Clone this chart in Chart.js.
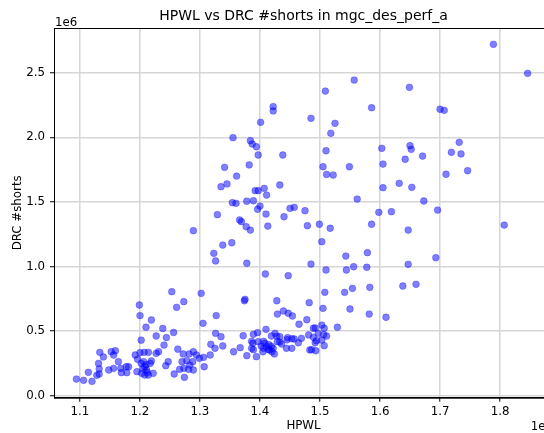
<!DOCTYPE html>
<html>
<head>
<meta charset="utf-8">
<script src="https://cdn.jsdelivr.net/npm/chart.js@4.4.1/dist/chart.umd.min.js"></script>
<style>
  html, body { margin: 0; padding: 0; overflow: hidden; background: #fff; }
  canvas { display: block; }
</style>
</head>
<body>
<canvas id="c" width="560" height="433"></canvas>
<script>
// HPWL values in units of 1e7, DRC #shorts in units of 1e6
const hpwl = [
  1.094,1.106,1.120,1.114,1.128,1.132,1.131,1.132,1.133,1.139,1.148,1.152,1.156,1.156,1.159,1.164,1.168,1.169,1.177,1.178,
  1.181,1.192,1.195,1.196,1.200,1.200,1.199,1.202,1.203,1.206,1.207,1.208,1.208,1.211,1.214,1.214,1.217,1.219,1.210,1.219,
  1.222,1.227,1.227,1.231,1.238,1.240,1.243,1.244,1.247,1.253,1.256,1.257,1.261,1.263,1.266,1.270,1.272,1.273,1.273,1.274,
  1.278,1.281,1.282,1.283,1.288,1.289,1.289,1.294,1.299,1.305,1.307,1.205,1.210,1.212,1.202,
  1.306,1.317,1.318,1.325,1.326,1.327,1.335,1.338,1.356,1.367,1.372,1.374,1.378,1.386,1.386,1.388,1.389,1.389,1.394,1.396,
  1.397,1.406,1.406,1.408,1.410,1.411,1.414,1.416,1.419,1.419,1.422,1.424,1.425,1.428,1.428,1.429,1.429,1.433,1.433,1.436,
  1.439,1.444,1.445,1.446,1.447,1.453,1.453,1.454,1.457,1.464,1.465,1.469,1.478,1.481,1.482,1.483,1.486,1.489,1.489,1.492,
  1.492,1.493,1.494,1.497,1.503,1.503,1.505,1.506,1.507,1.507,1.511,1.529,1.550,1.582,1.610,1.402,1.415,1.405,1.420,
  1.302,1.289,1.323,1.326,1.329,1.338,1.353,1.366,1.369,1.377,1.384,1.378,1.375,1.409,1.413,1.447,1.440,1.479,1.485,1.499,
  1.503,1.508,1.510,1.517,1.541,1.543,1.544,1.554,1.556,1.578,1.579,1.583,1.586,1.598,1.619,1.638,1.647,1.647,1.660,1.693,
  1.696,1.673,1.807,1.354,1.360,1.378,1.389,1.400,1.396,1.410,1.450,1.457,1.475,1.562,1.335,1.345,1.392,1.397,1.407,1.411,
  1.433,1.605,1.632,1.653,
  1.341,1.361,1.382,1.397,1.438,1.394,1.387,1.384,1.355,1.401,1.422,1.422,1.485,1.509,1.525,1.518,1.557,1.586,1.510,1.505,
  1.549,1.511,1.522,1.603,1.605,1.649,1.700,1.707,1.650,1.652,1.642,1.671,1.732,1.719,1.735,1.746,1.710,1.789,1.846
];
const drcShorts = [
  0.129,0.119,0.111,0.181,0.158,0.168,0.250,0.207,0.336,0.300,0.199,0.340,0.315,0.212,0.348,0.263,0.212,0.178,0.224,0.178,
  0.224,0.315,0.186,0.282,0.333,0.620,0.702,0.430,0.173,0.263,0.336,0.224,0.160,0.199,0.336,0.160,0.250,0.269,0.530,0.586,
  0.173,0.328,0.462,0.340,0.520,0.392,0.232,0.450,0.263,0.805,0.490,0.168,0.684,0.360,0.204,0.263,0.323,0.728,0.212,0.142,
  0.271,0.204,0.323,0.237,0.263,0.340,0.199,0.315,0.290,0.560,0.224,0.210,0.240,0.180,0.250,
  0.297,0.315,0.398,0.367,0.483,0.620,0.457,0.385,0.340,0.372,0.464,0.735,0.310,0.367,0.421,0.406,0.475,0.356,0.302,0.488,
  0.418,0.367,0.421,0.406,0.514,0.379,0.356,0.354,0.462,0.382,0.367,0.323,0.483,0.460,0.735,0.418,0.632,0.457,0.415,0.400,
  0.656,0.367,0.433,0.449,0.638,0.367,0.441,0.617,0.439,0.410,0.553,0.444,0.588,0.470,0.720,0.354,0.356,0.522,0.452,0.410,
  0.524,0.348,0.426,0.483,0.547,0.431,0.676,0.472,0.522,0.387,0.462,0.530,0.671,0.632,0.607,0.385,0.395,0.340,0.340,
  0.792,1.277,1.102,1.043,1.401,1.166,1.184,1.360,1.347,1.308,1.282,1.025,0.746,0.942,1.313,0.929,1.385,1.316,1.019,1.327,
  1.192,0.800,0.973,1.296,0.800,1.081,0.973,0.831,0.998,0.994,1.107,0.839,1.327,1.419,1.424,0.849,1.282,1.017,0.862,1.068,
  1.437,1.507,1.321,1.494,1.489,1.505,1.509,1.468,1.443,1.406,1.450,1.458,1.432,1.522,1.618,1.639,1.587,1.587,1.605,1.553,
  1.631,1.610,1.644,1.613,
  1.768,1.700,1.786,1.863,1.863,1.927,1.948,1.974,1.997,2.116,2.237,2.204,2.147,2.358,2.108,2.031,2.443,2.229,1.896,1.772,
  1.772,1.713,1.708,1.915,1.793,2.387,2.217,2.209,1.935,1.907,1.830,1.855,1.961,1.884,1.871,1.742,1.714,2.720,2.495
];
const xTicks = [1.1, 1.2, 1.3, 1.4, 1.5, 1.6, 1.7, 1.8];
const yTicks = [0.0, 0.5, 1.0, 1.5, 2.0, 2.5];
const titleText = 'HPWL vs DRC #shorts in mgc_des_perf_a';
const xLabel = 'HPWL';
const yLabel = 'DRC #shorts';
const xOffsetText = '1e7';
const yOffsetText = '1e6';

const points = hpwl.map((x, i) => ({ x: x, y: drcShorts[i] }));
const FONT = 'DejaVu Sans';

const framePlugin = {
  id: 'frame',
  afterDraw(chart) {
    const { ctx, chartArea: a } = chart;
    ctx.save();
    ctx.strokeStyle = '#000';
    ctx.lineWidth = 1;
    ctx.strokeRect(a.left + 0.5, a.top + 0.5, a.right - a.left - 1, a.bottom - a.top);
    ctx.fillStyle = '#000';
    ctx.font = '11.8px "' + FONT + '"';
    ctx.textBaseline = 'alphabetic';
    ctx.textAlign = 'left';
    ctx.fillText(yOffsetText, a.left + 1, 26);
    ctx.textAlign = 'right';
    ctx.fillText(xOffsetText, a.right, 430);
    ctx.restore();
  }
};

new Chart(document.getElementById('c'), {
  type: 'scatter',
  data: {
    datasets: [{
      data: points,
      backgroundColor: 'rgba(0,0,255,0.5)',
      borderColor: 'rgba(0,0,255,0.35)',
      borderWidth: 0.8,
      pointRadius: 3.4,
      pointHoverRadius: 3.4
    }]
  },
  options: {
    responsive: false,
    animation: false,
    devicePixelRatio: 1,
    layout: { padding: { top: 0, left: 0, right: 7, bottom: 0 } },
    plugins: {
      legend: { display: false },
      tooltip: { enabled: false },
      title: {
        display: true,
        text: titleText,
        fullSize: false,
        color: '#000',
        font: { family: FONT, size: 14, weight: 'normal', lineHeight: 1.2 },
        padding: { top: 8, bottom: 3.2 }
      }
    },
    scales: {
      x: {
        type: 'linear',
        min: 1.0567,
        max: 1.8883,
        afterFit(s) { s.height = 35.3; },
        afterBuildTicks(s) { s.ticks = xTicks.map(v => ({ value: v })); },
        ticks: {
          color: '#000',
          font: { family: FONT, size: 11.8 },
          padding: 3,
          maxRotation: 0,
          callback: v => Number(v).toFixed(1)
        },
        grid: {
          color: '#d6d6d6',
          lineWidth: 1.5,
          tickColor: '#000',
          tickWidth: 1,
          tickLength: 4
        },
        border: { display: true, color: '#000', width: 1 },
        title: {
          display: true,
          text: xLabel,
          color: '#000',
          font: { family: FONT, size: 11.8, lineHeight: 1.2 },
          padding: { top: 0, bottom: 0 }
        }
      },
      y: {
        type: 'linear',
        min: -0.0155,
        max: 2.846,
        afterFit(s) { s.width = 54; },
        afterBuildTicks(s) { s.ticks = yTicks.map(v => ({ value: v })); },
        ticks: {
          color: '#000',
          font: { family: FONT, size: 11.8 },
          padding: 5,
          callback: v => Number(v).toFixed(1)
        },
        grid: {
          color: '#d6d6d6',
          lineWidth: 1.5,
          tickColor: '#000',
          tickWidth: 1,
          tickLength: 4
        },
        border: { display: true, color: '#000', width: 1 },
        title: {
          display: true,
          text: yLabel,
          color: '#000',
          font: { family: FONT, size: 11.8, lineHeight: 1.2 },
          padding: { top: 11, bottom: 0 }
        }
      }
    }
  },
  plugins: [framePlugin]
});
</script>
</body>
</html>
